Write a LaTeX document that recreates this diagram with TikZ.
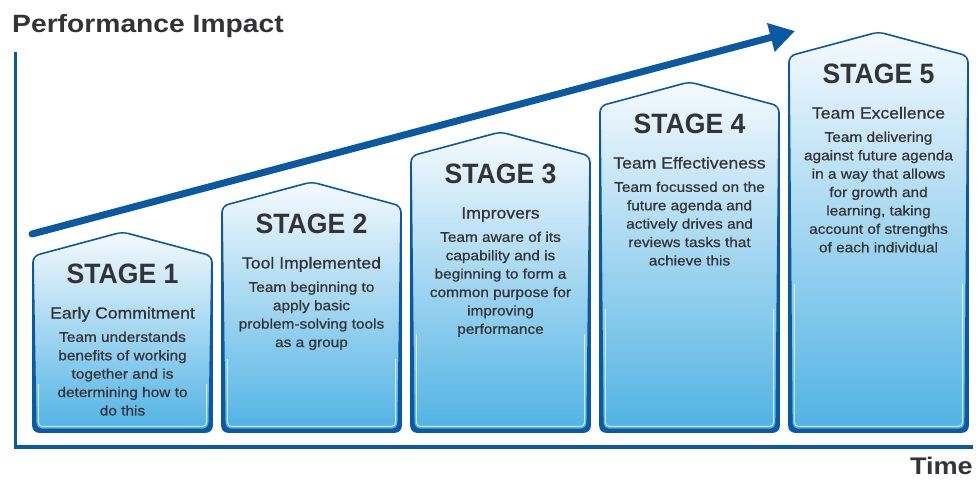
\documentclass[tikz,border=0pt]{standalone}
\usepackage{fontspec}
\setmainfont{Liberation Sans}
\newfontfamily\titlefont{Liberation Sans}[FakeStretch=1.13]
\newfontfamily\headfont{Liberation Sans}[FakeStretch=0.95]
\newfontfamily\bodyfont{Liberation Sans}[FakeStretch=1.1, FakeBold=0.7]
\usetikzlibrary{arrows.meta}

\definecolor{navy}{HTML}{0B59A2}
\definecolor{ink}{HTML}{333338}
\definecolor{cardtop}{HTML}{F5FAFE}
\definecolor{cardmid}{HTML}{C9E5F6}
\definecolor{cardbot}{HTML}{4FB2E4}

\tikzset{
  axisline/.style={navy, line width=3.6pt},
  risearrow/.style={navy, line width=7pt, line cap=round, -{Triangle[length=25pt,width=28pt]}},
  cardglow/.style={white, opacity=.7, line width=1pt, rounded corners=4pt},
  stagehead/.style={inner sep=0pt, text=ink, font=\headfont\bfseries\fontsize{28}{28}\selectfont},
  stagename/.style={inner sep=0pt, anchor=base, text=ink, font=\bodyfont\fontsize{16}{18}\selectfont},
  stagetext/.style={inner sep=0pt, anchor=north, align=center, text=ink,
    font=\bodyfont\fontsize{14}{18.4}\selectfont},
  axislabel/.style={inner sep=0pt, text=ink, font=\titlefont\bfseries\fontsize{25}{25}\selectfont}
}

% One house-shaped card: #1 stage number, #2 heading, #3 description
\newcommand\stagecard[3]{%
  \pgfmathsetmacro\xl{33+189*(#1-1)}%
  \pgfmathsetmacro\yp{232-50*(#1-1)}%
  \pgfmathsetmacro\xc{\xl+89.5}%
  \pgfmathsetmacro\xr{\xl+179}%
  \pgfmathsetmacro\ys{\yp+24}%
  \pgfmathsetmacro\yg{(\ys+432)/2+40}%
  \shade[top color=cardtop, middle color=cardmid, bottom color=cardbot, rounded corners=6pt]
    (\xc,\yp) -- (\xr,\ys) -- (\xr,432) -- (\xl,432) -- (\xl,\ys) -- cycle;
  \draw[cardglow] (\xl+5.4,\yg) -- (\xl+5.4,426.4) -- (\xr-5.4,426.4) -- (\xr-5.4,\yg);
  % rim: thin along the roof, thicker towards the base
  \fill[navy, even odd rule]
    [rounded corners=6.8pt] (\xc,\yp-0.9) -- (\xr+0.8,\ys-0.6) -- (\xr+0.8,432.8) -- (\xl-0.8,432.8) -- (\xl-0.8,\ys-0.6) -- cycle
    [rounded corners=5pt] (\xc,\yp+0.8) -- (\xr-0.8,\ys+0.6) -- (\xr-3.6,428.6) -- (\xl+3.6,428.6) -- (\xl+0.8,\ys+0.6) -- cycle;
  \node[stagehead] (stage#1) at (\xc,\yp+41.5) {STAGE #1};
  \node[stagename] (name#1) at (\xc,\yp+86.5) {#2};
  \node[stagetext] (about#1) at (\xc,\yp+99.5) {#3};
}

\begin{document}
\begin{tikzpicture}[x=1pt,y=-1pt]
\useasboundingbox (0,0) rectangle (980,480);

% axes
\coordinate (origin) at (15.5,447);
\coordinate (ytop) at (15.5,52);
\coordinate (xend) at (973,447);
\draw[axisline] (ytop) -- (origin) -- (xend);
\node[axislabel, anchor=base west] (perf) at (12,32) {Performance Impact};
\node[axislabel, anchor=base east, font=\titlefont\bfseries\fontsize{24}{24}\selectfont] (time) at (973,474) {Time};

% rising trend
\coordinate (riseA) at (32,234);
\coordinate (riseB) at (795,31);
\draw[risearrow] (riseA) -- (riseB);

\stagecard{1}{Early Commitment}{Team understands\\benefits of working\\together and is\\determining how to\\do this}
\stagecard{2}{Tool Implemented}{Team beginning to\\apply basic\\problem-solving tools\\as a group}
\stagecard{3}{Improvers}{Team aware of its\\capability and is\\beginning to form a\\common purpose for\\improving\\performance}
\stagecard{4}{Team Effectiveness}{Team focussed on the\\future agenda and\\actively drives and\\reviews tasks that\\achieve this}
\stagecard{5}{Team Excellence}{Team delivering\\against future agenda\\in a way that allows\\for growth and\\learning, taking\\account of strengths\\of each individual}
\end{tikzpicture}
\end{document}
